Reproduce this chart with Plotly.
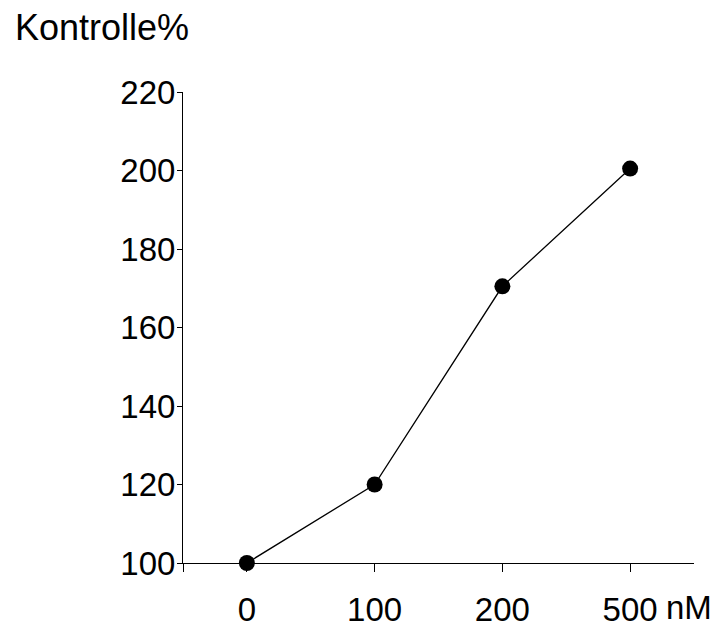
import plotly.graph_objects as go

categories = ["0", "100", "200", "500"]
values = [100, 120, 170.5, 200.5]
y_ticks = [100, 120, 140, 160, 180, 200, 220]

pos = list(range(len(categories)))

fig = go.Figure()
fig.add_trace(go.Scatter(
    x=pos, y=values, mode="lines+markers",
    line=dict(color="black", width=1.3),
    marker=dict(color="black", size=16),
    showlegend=False, cliponaxis=False,
))

font = dict(family="Liberation Sans, Arial, sans-serif", color="black")

fig.update_layout(
    width=716, height=618,
    margin=dict(l=175, r=30, t=84, b=63, autoexpand=False),
    plot_bgcolor="white", paper_bgcolor="white",
    xaxis=dict(
        range=[-0.5, 3.5], showgrid=False, zeroline=False, automargin=False,
        showline=True, linecolor="black", linewidth=1,
        tickmode="array", tickvals=[-0.5] + pos, ticktext=[""] + categories,
        ticks="outside", ticklen=8, tickcolor="black", tickwidth=1,
        tickfont=dict(size=33, **font), ticklabelstandoff=9,
    ),
    yaxis=dict(
        range=[100, 220], showgrid=False, zeroline=False, automargin=False,
        showline=True, linecolor="black", linewidth=1,
        tickmode="array", tickvals=y_ticks,
        ticks="outside", ticklen=5, tickcolor="black", tickwidth=1,
        tickfont=dict(size=33, **font), ticklabelstandoff=-5,
    ),
    annotations=[
        dict(text="Kontrolle%", xref="paper", yref="paper", x=-0.333, y=1.138,
             xanchor="left", yanchor="middle", showarrow=False,
             font=dict(size=36, **font)),
        dict(text="nM", xref="x", yref="paper", x=3, y=-0.0955,
             xanchor="left", yanchor="middle", xshift=34, showarrow=False,
             font=dict(size=33, **font)),
    ],
)

fig.write_html("out.html")
